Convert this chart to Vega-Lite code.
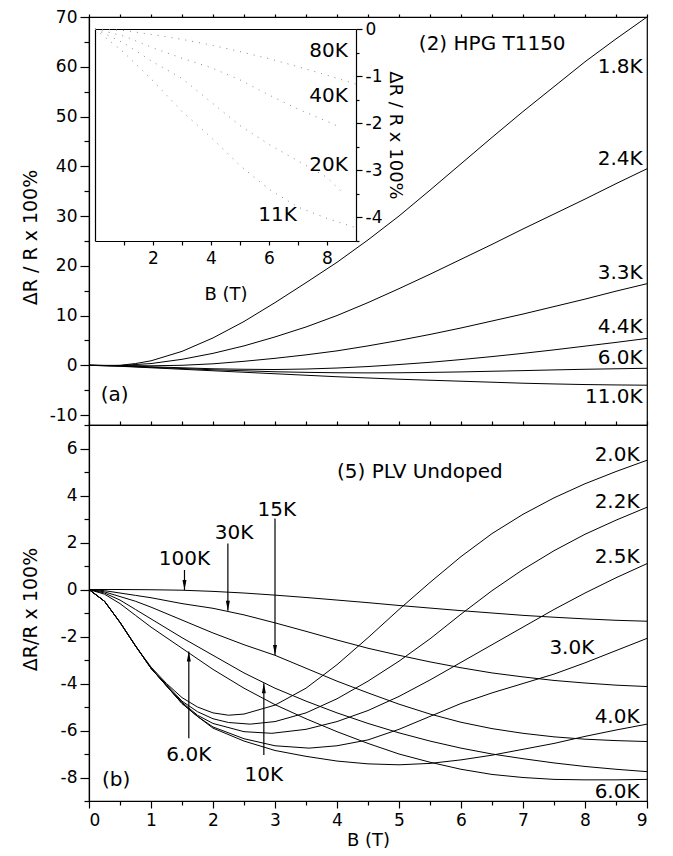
{
  "$schema": "https://vega.github.io/schema/vega-lite/v6.json",
  "padding": {"left": 20, "top": 7, "right": 10, "bottom": 5},
  "config": {
    "view": {"stroke": "black", "strokeWidth": 1.2},
    "font": "DejaVu Sans",
    "axis": {"labelFont": "DejaVu Sans", "labelFontSize": 17, "labelColor": "black", "titleFont": "DejaVu Sans", "titleFontSize": 19, "titleFontWeight": "normal", "titleColor": "black", "domainColor": "black", "tickColor": "black", "domainWidth": 1.2, "tickWidth": 1.2, "grid": false, "labelPadding": 3},
    "text": {"font": "DejaVu Sans", "fontSize": 20, "color": "black"}
  },
  "datasets": {
    "top": [
      {"T":"1.8K","B":0,"v":0},{"T":"1.8K","B":0.25,"v":-0.05},{"T":"1.8K","B":0.5,"v":0},{"T":"1.8K","B":0.75,"v":0.35},{"T":"1.8K","B":1,"v":0.9},{"T":"1.8K","B":1.5,"v":2.8},{"T":"1.8K","B":2,"v":5.5},{"T":"1.8K","B":2.5,"v":8.8},{"T":"1.8K","B":3,"v":12.6},{"T":"1.8K","B":3.5,"v":16.6},{"T":"1.8K","B":4,"v":20.7},{"T":"1.8K","B":4.5,"v":25.2},{"T":"1.8K","B":5,"v":30},{"T":"1.8K","B":5.5,"v":35.2},{"T":"1.8K","B":6,"v":40.5},{"T":"1.8K","B":6.5,"v":45.8},{"T":"1.8K","B":7,"v":51},{"T":"1.8K","B":7.5,"v":56},{"T":"1.8K","B":8,"v":61},{"T":"1.8K","B":8.5,"v":65.6},{"T":"1.8K","B":9,"v":70},
      {"T":"2.4K","B":0,"v":0},{"T":"2.4K","B":0.5,"v":-0.05},{"T":"2.4K","B":1,"v":0.35},{"T":"2.4K","B":1.5,"v":1.2},{"T":"2.4K","B":2,"v":2.4},{"T":"2.4K","B":2.5,"v":3.9},{"T":"2.4K","B":3,"v":5.7},{"T":"2.4K","B":3.5,"v":7.7},{"T":"2.4K","B":4,"v":10},{"T":"2.4K","B":4.5,"v":12.6},{"T":"2.4K","B":5,"v":15.4},{"T":"2.4K","B":5.5,"v":18.3},{"T":"2.4K","B":6,"v":21.3},{"T":"2.4K","B":6.5,"v":24.3},{"T":"2.4K","B":7,"v":27.4},{"T":"2.4K","B":7.5,"v":30.4},{"T":"2.4K","B":8,"v":33.4},{"T":"2.4K","B":8.5,"v":36.5},{"T":"2.4K","B":9,"v":39.5},
      {"T":"3.3K","B":0,"v":0},{"T":"3.3K","B":1,"v":-0.1},{"T":"3.3K","B":1.5,"v":0},{"T":"3.3K","B":2,"v":0.3},{"T":"3.3K","B":2.5,"v":0.8},{"T":"3.3K","B":3,"v":1.4},{"T":"3.3K","B":3.5,"v":2.1},{"T":"3.3K","B":4,"v":2.9},{"T":"3.3K","B":4.5,"v":3.9},{"T":"3.3K","B":5,"v":5},{"T":"3.3K","B":5.5,"v":6.2},{"T":"3.3K","B":6,"v":7.5},{"T":"3.3K","B":6.5,"v":8.9},{"T":"3.3K","B":7,"v":10.3},{"T":"3.3K","B":7.5,"v":11.8},{"T":"3.3K","B":8,"v":13.3},{"T":"3.3K","B":8.5,"v":14.9},{"T":"3.3K","B":9,"v":16.4},
      {"T":"4.4K","B":0,"v":0},{"T":"4.4K","B":0.5,"v":-0.1},{"T":"4.4K","B":1,"v":-0.3},{"T":"4.4K","B":1.5,"v":-0.5},{"T":"4.4K","B":2,"v":-0.7},{"T":"4.4K","B":2.5,"v":-0.8},{"T":"4.4K","B":3,"v":-0.85},{"T":"4.4K","B":3.5,"v":-0.75},{"T":"4.4K","B":4,"v":-0.55},{"T":"4.4K","B":4.5,"v":-0.25},{"T":"4.4K","B":5,"v":0.15},{"T":"4.4K","B":5.5,"v":0.6},{"T":"4.4K","B":6,"v":1.15},{"T":"4.4K","B":6.5,"v":1.75},{"T":"4.4K","B":7,"v":2.4},{"T":"4.4K","B":7.5,"v":3.1},{"T":"4.4K","B":8,"v":3.85},{"T":"4.4K","B":8.5,"v":4.6},{"T":"4.4K","B":9,"v":5.4},
      {"T":"6.0K","B":0,"v":0},{"T":"6.0K","B":0.5,"v":-0.15},{"T":"6.0K","B":1,"v":-0.4},{"T":"6.0K","B":1.5,"v":-0.65},{"T":"6.0K","B":2,"v":-0.9},{"T":"6.0K","B":2.5,"v":-1.1},{"T":"6.0K","B":3,"v":-1.3},{"T":"6.0K","B":3.5,"v":-1.42},{"T":"6.0K","B":4,"v":-1.5},{"T":"6.0K","B":4.5,"v":-1.53},{"T":"6.0K","B":5,"v":-1.5},{"T":"6.0K","B":5.5,"v":-1.43},{"T":"6.0K","B":6,"v":-1.33},{"T":"6.0K","B":6.5,"v":-1.2},{"T":"6.0K","B":7,"v":-1.07},{"T":"6.0K","B":7.5,"v":-0.93},{"T":"6.0K","B":8,"v":-0.8},{"T":"6.0K","B":8.5,"v":-0.7},{"T":"6.0K","B":9,"v":-0.6},
      {"T":"11.0K","B":0,"v":0},{"T":"11.0K","B":0.5,"v":-0.2},{"T":"11.0K","B":1,"v":-0.5},{"T":"11.0K","B":1.5,"v":-0.8},{"T":"11.0K","B":2,"v":-1.1},{"T":"11.0K","B":2.5,"v":-1.4},{"T":"11.0K","B":3,"v":-1.7},{"T":"11.0K","B":3.5,"v":-2},{"T":"11.0K","B":4,"v":-2.3},{"T":"11.0K","B":4.5,"v":-2.55},{"T":"11.0K","B":5,"v":-2.8},{"T":"11.0K","B":5.5,"v":-3},{"T":"11.0K","B":6,"v":-3.2},{"T":"11.0K","B":6.5,"v":-3.4},{"T":"11.0K","B":7,"v":-3.6},{"T":"11.0K","B":7.5,"v":-3.75},{"T":"11.0K","B":8,"v":-3.87},{"T":"11.0K","B":8.5,"v":-3.95},{"T":"11.0K","B":9,"v":-4}
    ],
    "inset": [
      {"T":"80K","B":0,"v":0},{"T":"80K","B":1,"v":-0.03},{"T":"80K","B":2,"v":-0.12},{"T":"80K","B":3,"v":-0.22},{"T":"80K","B":4,"v":-0.34},{"T":"80K","B":5,"v":-0.48},{"T":"80K","B":6,"v":-0.63},{"T":"80K","B":7,"v":-0.8},{"T":"80K","B":8,"v":-0.98},{"T":"80K","B":9,"v":-1.17},
      {"T":"40K","B":0,"v":0},{"T":"40K","B":1,"v":-0.15},{"T":"40K","B":2,"v":-0.4},{"T":"40K","B":3,"v":-0.62},{"T":"40K","B":4,"v":-0.82},{"T":"40K","B":5,"v":-1.08},{"T":"40K","B":6,"v":-1.4},{"T":"40K","B":7,"v":-1.7},{"T":"40K","B":8,"v":-1.96},{"T":"40K","B":8.4,"v":-2.07},
      {"T":"20K","B":0,"v":0},{"T":"20K","B":1,"v":-0.3},{"T":"20K","B":2,"v":-0.7},{"T":"20K","B":3,"v":-1.05},{"T":"20K","B":4,"v":-1.55},{"T":"20K","B":5,"v":-2.05},{"T":"20K","B":6,"v":-2.45},{"T":"20K","B":7,"v":-2.8},{"T":"20K","B":8,"v":-3.15},{"T":"20K","B":8.5,"v":-3.45},
      {"T":"11K","B":0,"v":0},{"T":"11K","B":1,"v":-0.5},{"T":"11K","B":2,"v":-1.1},{"T":"11K","B":3,"v":-1.75},{"T":"11K","B":4,"v":-2.3},{"T":"11K","B":5,"v":-2.9},{"T":"11K","B":6,"v":-3.4},{"T":"11K","B":7,"v":-3.78},{"T":"11K","B":8,"v":-4.02},{"T":"11K","B":9,"v":-4.22}
    ],
    "bottom": [
      {"T":"100K","B":0,"v":0},{"T":"100K","B":0.5,"v":0},{"T":"100K","B":1,"v":-0.01},{"T":"100K","B":1.5,"v":-0.03},{"T":"100K","B":2,"v":-0.08},{"T":"100K","B":2.5,"v":-0.15},{"T":"100K","B":3,"v":-0.24},{"T":"100K","B":3.5,"v":-0.34},{"T":"100K","B":4,"v":-0.45},{"T":"100K","B":4.5,"v":-0.56},{"T":"100K","B":5,"v":-0.68},{"T":"100K","B":5.5,"v":-0.79},{"T":"100K","B":6,"v":-0.9},{"T":"100K","B":6.5,"v":-1},{"T":"100K","B":7,"v":-1.1},{"T":"100K","B":7.5,"v":-1.18},{"T":"100K","B":8,"v":-1.25},{"T":"100K","B":8.5,"v":-1.31},{"T":"100K","B":9,"v":-1.35},
      {"T":"30K","B":0,"v":0},{"T":"30K","B":0.25,"v":-0.05},{"T":"30K","B":0.5,"v":-0.15},{"T":"30K","B":0.75,"v":-0.25},{"T":"30K","B":1,"v":-0.35},{"T":"30K","B":1.5,"v":-0.6},{"T":"30K","B":2,"v":-0.8},{"T":"30K","B":2.5,"v":-1.08},{"T":"30K","B":3,"v":-1.42},{"T":"30K","B":3.5,"v":-1.78},{"T":"30K","B":4,"v":-2.15},{"T":"30K","B":4.5,"v":-2.5},{"T":"30K","B":5,"v":-2.8},{"T":"30K","B":5.5,"v":-3.08},{"T":"30K","B":6,"v":-3.33},{"T":"30K","B":6.5,"v":-3.55},{"T":"30K","B":7,"v":-3.72},{"T":"30K","B":7.5,"v":-3.87},{"T":"30K","B":8,"v":-3.98},{"T":"30K","B":8.5,"v":-4.07},{"T":"30K","B":9,"v":-4.13},
      {"T":"15K","B":0,"v":0},{"T":"15K","B":0.25,"v":-0.1},{"T":"15K","B":0.5,"v":-0.3},{"T":"15K","B":0.75,"v":-0.5},{"T":"15K","B":1,"v":-0.75},{"T":"15K","B":1.5,"v":-1.3},{"T":"15K","B":2,"v":-1.85},{"T":"15K","B":2.5,"v":-2.35},{"T":"15K","B":3,"v":-2.8},{"T":"15K","B":3.5,"v":-3.35},{"T":"15K","B":4,"v":-3.9},{"T":"15K","B":4.5,"v":-4.4},{"T":"15K","B":5,"v":-4.88},{"T":"15K","B":5.5,"v":-5.3},{"T":"15K","B":6,"v":-5.65},{"T":"15K","B":6.5,"v":-5.92},{"T":"15K","B":7,"v":-6.12},{"T":"15K","B":7.5,"v":-6.27},{"T":"15K","B":8,"v":-6.37},{"T":"15K","B":8.5,"v":-6.43},{"T":"15K","B":9,"v":-6.47},
      {"T":"10K","B":0,"v":0},{"T":"10K","B":0.25,"v":-0.15},{"T":"10K","B":0.5,"v":-0.45},{"T":"10K","B":0.75,"v":-0.85},{"T":"10K","B":1,"v":-1.25},{"T":"10K","B":1.5,"v":-2.05},{"T":"10K","B":2,"v":-2.8},{"T":"10K","B":2.5,"v":-3.55},{"T":"10K","B":3,"v":-4.2},{"T":"10K","B":3.5,"v":-4.75},{"T":"10K","B":4,"v":-5.25},{"T":"10K","B":4.5,"v":-5.7},{"T":"10K","B":5,"v":-6.1},{"T":"10K","B":5.5,"v":-6.45},{"T":"10K","B":6,"v":-6.75},{"T":"10K","B":6.5,"v":-7},{"T":"10K","B":7,"v":-7.2},{"T":"10K","B":7.5,"v":-7.38},{"T":"10K","B":8,"v":-7.53},{"T":"10K","B":8.5,"v":-7.65},{"T":"10K","B":9,"v":-7.75},
      {"T":"6.0K","B":0,"v":0},{"T":"6.0K","B":0.25,"v":-0.2},{"T":"6.0K","B":0.5,"v":-0.6},{"T":"6.0K","B":0.75,"v":-1.1},{"T":"6.0K","B":1,"v":-1.6},{"T":"6.0K","B":1.5,"v":-2.5},{"T":"6.0K","B":2,"v":-3.4},{"T":"6.0K","B":2.5,"v":-4.2},{"T":"6.0K","B":3,"v":-4.9},{"T":"6.0K","B":3.5,"v":-5.5},{"T":"6.0K","B":4,"v":-6.05},{"T":"6.0K","B":4.5,"v":-6.55},{"T":"6.0K","B":5,"v":-7},{"T":"6.0K","B":5.5,"v":-7.35},{"T":"6.0K","B":6,"v":-7.65},{"T":"6.0K","B":6.5,"v":-7.87},{"T":"6.0K","B":7,"v":-8},{"T":"6.0K","B":7.5,"v":-8.08},{"T":"6.0K","B":8,"v":-8.1},{"T":"6.0K","B":8.5,"v":-8.1},{"T":"6.0K","B":9,"v":-8.08},
      {"T":"2.0K","B":0,"v":0},{"T":"2.0K","B":0.25,"v":-0.5},{"T":"2.0K","B":0.5,"v":-1.4},{"T":"2.0K","B":0.75,"v":-2.4},{"T":"2.0K","B":1,"v":-3.3},{"T":"2.0K","B":1.25,"v":-4},{"T":"2.0K","B":1.5,"v":-4.6},{"T":"2.0K","B":1.75,"v":-5},{"T":"2.0K","B":2,"v":-5.25},{"T":"2.0K","B":2.25,"v":-5.35},{"T":"2.0K","B":2.5,"v":-5.3},{"T":"2.0K","B":3,"v":-4.92},{"T":"2.0K","B":3.5,"v":-4.2},{"T":"2.0K","B":4,"v":-3.2},{"T":"2.0K","B":4.5,"v":-2.05},{"T":"2.0K","B":5,"v":-0.85},{"T":"2.0K","B":5.5,"v":0.3},{"T":"2.0K","B":6,"v":1.4},{"T":"2.0K","B":6.5,"v":2.38},{"T":"2.0K","B":7,"v":3.2},{"T":"2.0K","B":7.5,"v":3.9},{"T":"2.0K","B":8,"v":4.5},{"T":"2.0K","B":8.5,"v":5.02},{"T":"2.0K","B":9,"v":5.5},
      {"T":"2.2K","B":0,"v":0},{"T":"2.2K","B":0.25,"v":-0.5},{"T":"2.2K","B":0.5,"v":-1.4},{"T":"2.2K","B":0.75,"v":-2.4},{"T":"2.2K","B":1,"v":-3.35},{"T":"2.2K","B":1.25,"v":-4.05},{"T":"2.2K","B":1.5,"v":-4.75},{"T":"2.2K","B":1.75,"v":-5.2},{"T":"2.2K","B":2,"v":-5.5},{"T":"2.2K","B":2.25,"v":-5.66},{"T":"2.2K","B":2.6,"v":-5.73},{"T":"2.2K","B":3,"v":-5.62},{"T":"2.2K","B":3.5,"v":-5.25},{"T":"2.2K","B":4,"v":-4.65},{"T":"2.2K","B":4.5,"v":-3.9},{"T":"2.2K","B":5,"v":-3.05},{"T":"2.2K","B":5.5,"v":-2.1},{"T":"2.2K","B":6,"v":-1.05},{"T":"2.2K","B":6.5,"v":-0.05},{"T":"2.2K","B":7,"v":0.85},{"T":"2.2K","B":7.5,"v":1.65},{"T":"2.2K","B":8,"v":2.35},{"T":"2.2K","B":8.5,"v":2.95},{"T":"2.2K","B":9,"v":3.5},
      {"T":"2.5K","B":0,"v":0},{"T":"2.5K","B":0.25,"v":-0.5},{"T":"2.5K","B":0.5,"v":-1.4},{"T":"2.5K","B":0.75,"v":-2.4},{"T":"2.5K","B":1,"v":-3.35},{"T":"2.5K","B":1.25,"v":-4.1},{"T":"2.5K","B":1.5,"v":-4.8},{"T":"2.5K","B":1.75,"v":-5.35},{"T":"2.5K","B":2,"v":-5.7},{"T":"2.5K","B":2.5,"v":-6.05},{"T":"2.5K","B":2.95,"v":-6.12},{"T":"2.5K","B":3.5,"v":-5.95},{"T":"2.5K","B":4,"v":-5.62},{"T":"2.5K","B":4.5,"v":-5.15},{"T":"2.5K","B":5,"v":-4.55},{"T":"2.5K","B":5.5,"v":-3.85},{"T":"2.5K","B":6,"v":-3.1},{"T":"2.5K","B":6.5,"v":-2.35},{"T":"2.5K","B":7,"v":-1.6},{"T":"2.5K","B":7.5,"v":-0.85},{"T":"2.5K","B":8,"v":-0.15},{"T":"2.5K","B":8.5,"v":0.5},{"T":"2.5K","B":9,"v":1.1},
      {"T":"3.0K","B":0,"v":0},{"T":"3.0K","B":0.25,"v":-0.5},{"T":"3.0K","B":0.5,"v":-1.4},{"T":"3.0K","B":0.75,"v":-2.4},{"T":"3.0K","B":1,"v":-3.35},{"T":"3.0K","B":1.25,"v":-4.1},{"T":"3.0K","B":1.5,"v":-4.85},{"T":"3.0K","B":1.75,"v":-5.4},{"T":"3.0K","B":2,"v":-5.85},{"T":"3.0K","B":2.5,"v":-6.35},{"T":"3.0K","B":3,"v":-6.65},{"T":"3.0K","B":3.55,"v":-6.75},{"T":"3.0K","B":4,"v":-6.65},{"T":"3.0K","B":4.5,"v":-6.4},{"T":"3.0K","B":5,"v":-5.95},{"T":"3.0K","B":5.5,"v":-5.4},{"T":"3.0K","B":6,"v":-4.85},{"T":"3.0K","B":6.5,"v":-4.4},{"T":"3.0K","B":7,"v":-4},{"T":"3.0K","B":7.5,"v":-3.6},{"T":"3.0K","B":8,"v":-3.12},{"T":"3.0K","B":8.5,"v":-2.6},{"T":"3.0K","B":9,"v":-2.08},
      {"T":"4.0K","B":0,"v":0},{"T":"4.0K","B":0.25,"v":-0.5},{"T":"4.0K","B":0.5,"v":-1.4},{"T":"4.0K","B":0.75,"v":-2.4},{"T":"4.0K","B":1,"v":-3.35},{"T":"4.0K","B":1.25,"v":-4.1},{"T":"4.0K","B":1.5,"v":-4.85},{"T":"4.0K","B":1.75,"v":-5.4},{"T":"4.0K","B":2,"v":-5.9},{"T":"4.0K","B":2.5,"v":-6.45},{"T":"4.0K","B":3,"v":-6.85},{"T":"4.0K","B":3.5,"v":-7.1},{"T":"4.0K","B":4,"v":-7.3},{"T":"4.0K","B":4.5,"v":-7.42},{"T":"4.0K","B":5,"v":-7.46},{"T":"4.0K","B":5.5,"v":-7.4},{"T":"4.0K","B":6,"v":-7.25},{"T":"4.0K","B":6.5,"v":-7.05},{"T":"4.0K","B":7,"v":-6.8},{"T":"4.0K","B":7.5,"v":-6.55},{"T":"4.0K","B":8,"v":-6.25},{"T":"4.0K","B":8.5,"v":-5.98},{"T":"4.0K","B":9,"v":-5.73}
    ],
    "topLabR": [
      {"B":8.93,"v":60,"label":"1.8K"},{"B":8.93,"v":41.5,"label":"2.4K"},{"B":8.93,"v":18.5,"label":"3.3K"},{"B":8.93,"v":7.6,"label":"4.4K"},{"B":8.93,"v":1.4,"label":"6.0K"},{"B":8.93,"v":-6.4,"label":"11.0K"}
    ],
    "topLabL": [
      {"B":5.32,"v":64.6,"label":"(2) HPG T1150"},{"B":0.19,"v":-6,"label":"(a)"}
    ],
    "insetLab": [
      {"B":8.72,"v":-0.47,"label":"80K"},{"B":8.72,"v":-1.43,"label":"40K"},{"B":8.72,"v":-2.88,"label":"20K"},{"B":6.96,"v":-3.95,"label":"11K"}
    ],
    "botLabR": [
      {"B":8.88,"v":5.72,"label":"2.0K"},{"B":8.88,"v":3.73,"label":"2.2K"},{"B":8.88,"v":1.39,"label":"2.5K"},{"B":8.15,"v":-2.5,"label":"3.0K"},{"B":8.88,"v":-5.41,"label":"4.0K"},{"B":8.88,"v":-8.6,"label":"6.0K"}
    ],
    "botLabL": [
      {"B":4.0,"v":5.0,"label":"(5) PLV Undoped"},{"B":0.21,"v":-8.1,"label":"(b)"}
    ],
    "botLabC": [
      {"B":1.54,"v":1.3,"label":"100K"},{"B":2.34,"v":2.4,"label":"30K"},{"B":3.03,"v":3.4,"label":"15K"},{"B":1.61,"v":-7.04,"label":"6.0K"},{"B":2.82,"v":-7.89,"label":"10K"}
    ],
    "arrows": [
      {"T":"100K","B":1.54,"from":0.83,"to":-0.02},{"T":"30K","B":2.24,"from":1.96,"to":-0.9},{"T":"15K","B":3.0,"from":3.02,"to":-2.79},{"T":"6.0K","B":1.61,"from":-6.33,"to":-2.64},{"T":"10K","B":2.82,"from":-7.04,"to":-3.99}
    ],
    "headsDown": [
      {"T":"100K","B":1.54,"v":-0.02},{"T":"30K","B":2.24,"v":-0.9},{"T":"15K","B":3.0,"v":-2.79}
    ],
    "headsUp": [
      {"T":"6.0K","B":1.61,"v":-2.64},{"T":"10K","B":2.82,"v":-3.99}
    ]
  },
  "spacing": 0,
  "bounds": "flush",
  "vconcat": [
    {
      "width": 558,
      "height": 408,
      "layer": [
        {
          "layer": [
            {
              "data": {"name": "top"},
              "mark": {"type": "line", "color": "black", "strokeWidth": 1},
              "encoding": {
                "x": {"field": "B", "type": "quantitative", "scale": {"domain": [0, 9], "nice": false}, "axis": null},
                "y": {"field": "v", "type": "quantitative", "scale": {"domain": [-12, 70], "nice": false, "zero": false},
                  "axis": {"values": [-10,-5,0,5,10,15,20,25,30,35,40,45,50,55,60,65,70], "labelExpr": "datum.value % 10 === 0 ? toString(datum.value) : ''", "tickSize": {"condition": {"test": "datum.value % 10 === 0", "value": 9}, "value": 5}, "title": "ΔR / R x 100%", "titleX": -49, "titleY": 220}},
                "detail": {"field": "T"}
              }
            },
            {
              "data": {"name": "topLabR"},
              "mark": {"type": "text", "align": "right", "baseline": "middle"},
              "encoding": {
                "x": {"field": "B", "type": "quantitative", "axis": {"orient": "top", "values": [0,0.5,1,1.5,2,2.5,3,3.5,4,4.5,5,5.5,6,6.5,7,7.5,8,8.5,9], "labels": false, "tickSize": 3, "domain": false, "title": null}},
                "y": {"field": "v", "type": "quantitative", "axis": null},
                "text": {"field": "label"}
              }
            },
            {
              "data": {"name": "topLabL"},
              "mark": {"type": "text", "align": "left", "baseline": "middle"},
              "encoding": {
                "x": {"field": "B", "type": "quantitative", "axis": null},
                "y": {"field": "v", "type": "quantitative", "axis": null},
                "text": {"field": "label"}
              }
            }
          ],
          "resolve": {"axis": {"x": "independent", "y": "independent"}}
        },
        {
          "layer": [
            {
              "data": {"name": "inset"},
              "mark": {"type": "line", "color": "#8a8a8a", "strokeWidth": 1, "strokeDash": [1, 6]},
              "encoding": {
                "x": {"field": "B", "type": "quantitative", "scale": {"domain": [0, 9], "nice": false, "range": [6, 267]},
                  "axis": {"orient": "bottom", "offset": -184, "values": [1,2,3,4,5,6,7,8], "labelExpr": "datum.value % 2 === 0 ? toString(datum.value) : ''", "tickSize": 4, "labelPadding": 5, "title": "B (T)", "titleFontSize": 18, "titlePadding": 19}},
                "y": {"field": "v", "type": "quantitative", "scale": {"domain": [-4.5, 0], "nice": false, "zero": false, "range": [224, 12]},
                  "axis": {"orient": "right", "offset": -291, "values": [-4.5,-4,-3.5,-3,-2.5,-2,-1.5,-1,-0.5,0], "labelExpr": "datum.value % 1 === 0 ? toString(datum.value) : ''", "tickSize": {"condition": {"test": "datum.value % 1 === 0", "value": 6}, "value": 3}, "title": "ΔR / R x 100%", "titleFontSize": 18, "titlePadding": 4}},
                "detail": {"field": "T"}
              }
            },
            {
              "data": {"name": "insetLab"},
              "mark": {"type": "text", "align": "right", "baseline": "middle"},
              "encoding": {
                "x": {"field": "B", "type": "quantitative", "axis": {"orient": "top", "offset": -12, "ticks": false, "labels": false, "title": null}},
                "y": {"field": "v", "type": "quantitative", "axis": {"orient": "left", "offset": -6, "ticks": false, "labels": false, "title": null}},
                "text": {"field": "label"}
              }
            }
          ],
          "resolve": {"axis": {"x": "independent", "y": "independent"}}
        }
      ],
      "resolve": {"scale": {"x": "independent", "y": "independent"}, "axis": {"x": "independent", "y": "independent"}}
    },
    {
      "width": 558,
      "height": 376,
      "layer": [
        {
          "data": {"name": "bottom"},
          "mark": {"type": "line", "color": "black", "strokeWidth": 1},
          "encoding": {
            "x": {"field": "B", "type": "quantitative", "scale": {"domain": [0, 9], "nice": false},
              "axis": {"values": [0,0.5,1,1.5,2,2.5,3,3.5,4,4.5,5,5.5,6,6.5,7,7.5,8,8.5,9], "labelExpr": "datum.value % 1 === 0 ? toString(datum.value) : ''", "tickSize": {"condition": {"test": "datum.value % 1 === 0", "value": 7}, "value": 4}, "labelPadding": 4, "title": "B (T)", "titleFontSize": 18, "titlePadding": 3}},
            "y": {"field": "v", "type": "quantitative", "scale": {"domain": [-9, 7], "nice": false, "zero": false},
              "axis": {"values": [-9,-8,-7,-6,-5,-4,-3,-2,-1,0,1,2,3,4,5,6,7], "labelExpr": "datum.value % 2 === 0 ? toString(datum.value) : ''", "tickSize": {"condition": {"test": "datum.value % 2 === 0", "value": 9}, "value": 5}, "title": "ΔR/R x 100%", "titleX": -49, "titleY": 184}},
            "detail": {"field": "T"}
          }
        },
        {
          "data": {"name": "botLabR"},
          "mark": {"type": "text", "align": "right", "baseline": "middle"},
          "encoding": {
            "x": {"field": "B", "type": "quantitative", "axis": {"orient": "top", "values": [0,0.5,1,1.5,2,2.5,3,3.5,4,4.5,5,5.5,6,6.5,7,7.5,8,8.5,9], "labels": false, "tickSize": 4, "domain": false, "title": null}},
            "y": {"field": "v", "type": "quantitative", "axis": null},
            "text": {"field": "label"}
          }
        },
        {
          "data": {"name": "botLabL"},
          "mark": {"type": "text", "align": "left", "baseline": "middle"},
          "encoding": {
            "x": {"field": "B", "type": "quantitative", "axis": null},
            "y": {"field": "v", "type": "quantitative", "axis": null},
            "text": {"field": "label"}
          }
        },
        {
          "data": {"name": "botLabC"},
          "mark": {"type": "text", "align": "center", "baseline": "middle"},
          "encoding": {
            "x": {"field": "B", "type": "quantitative", "axis": null},
            "y": {"field": "v", "type": "quantitative", "axis": null},
            "text": {"field": "label"}
          }
        },
        {
          "data": {"name": "arrows"},
          "mark": {"type": "rule", "color": "black", "strokeWidth": 1.2},
          "encoding": {
            "x": {"field": "B", "type": "quantitative", "axis": null},
            "y": {"field": "from", "type": "quantitative", "axis": null},
            "y2": {"field": "to"}
          }
        },
        {
          "data": {"name": "headsDown"},
          "mark": {"type": "point", "shape": "M-0.4,-1L0.4,-1L0,1Z", "size": 100, "filled": true, "color": "black", "opacity": 1, "yOffset": -5},
          "encoding": {
            "x": {"field": "B", "type": "quantitative", "axis": null},
            "y": {"field": "v", "type": "quantitative", "axis": null}
          }
        },
        {
          "data": {"name": "headsUp"},
          "mark": {"type": "point", "shape": "M-0.4,1L0.4,1L0,-1Z", "size": 100, "filled": true, "color": "black", "opacity": 1, "yOffset": 5},
          "encoding": {
            "x": {"field": "B", "type": "quantitative", "axis": null},
            "y": {"field": "v", "type": "quantitative", "axis": null}
          }
        }
      ],
      "resolve": {"axis": {"x": "independent", "y": "independent"}}
    }
  ]
}
